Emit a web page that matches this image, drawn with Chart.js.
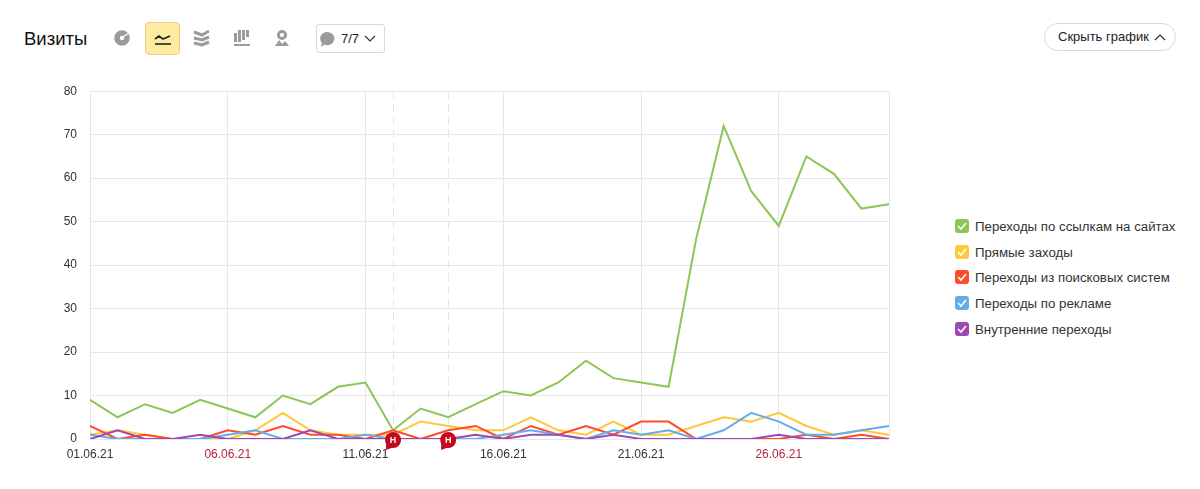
<!DOCTYPE html>
<html lang="ru">
<head>
<meta charset="utf-8">
<title>Визиты</title>
<script src="https://cdn.jsdelivr.net/npm/chart.js@4"></script>
<style>
  html, body { margin: 0; padding: 0; background: #fff; }
  body { width: 1200px; height: 489px; position: relative; overflow: hidden; font-family: "Liberation Sans", Arial, sans-serif; color: #222; }
  .title { position: absolute; left: 24px; top: 28px; font-size: 18.5px; line-height: 22px; color: #111; }
  .icon { position: absolute; top: 22px; width: 35px; height: 33px; box-sizing: border-box; }
  .icon svg { position: absolute; left: 8px; top: 7px; }
  .icon.on { background: #ffeba0; border: 1px solid #e3d08e; border-radius: 4px; }
  .notes { position: absolute; left: 316px; top: 24px; width: 69px; height: 29px; box-sizing: border-box; border: 1px solid #d9d9d9; border-radius: 3px; font-size: 13px; line-height: 27px; padding-left: 24px; }
  .notes svg { position: absolute; }
  .hide { position: absolute; left: 1044px; top: 23px; width: 132px; height: 28px; box-sizing: border-box; border: 1px solid #d9d9d9; border-radius: 14px; font-size: 13px; line-height: 26px; padding-left: 13px; }
  .hide svg { position: absolute; left: 109px; top: 9px; }
  #chartBox { position: absolute; left: 0; top: 71px; width: 900px; height: 398px; }
  #legend { position: absolute; left: 955px; top: 218px; }
  .item { position: relative; height: 25.7px; font-size: 13.25px; line-height: 17px; padding-left: 20px; white-space: nowrap; color: #333; }
  .box { position: absolute; left: 0; top: 1px; width: 14px; height: 14px; border-radius: 3px; }
  .box svg { position: absolute; left: 2px; top: 2px; }
</style>
</head>
<body>
<div class="title">Визиты</div>

<div class="icon" style="left:105px"><svg width="18" height="18" viewBox="0 0 18 18"><circle cx="9" cy="9" r="5" fill="none" stroke="#9b9b9b" stroke-width="5.5"/><path d="M10 8L17 3" stroke="#fff" stroke-width="1.2"/></svg></div>
<div class="icon on" style="left:145px"><svg width="18" height="18" viewBox="0 0 18 18" fill="none" stroke="#222" stroke-width="1.6"><path d="M1 9L5 6L9 9L16 6"/><path d="M1 14H17"/></svg></div>
<div class="icon" style="left:185px"><svg width="18" height="18" viewBox="0 0 18 18" fill="none" stroke="#9b9b9b" stroke-width="3"><path d="M1 3L9 6L16 2"/><path d="M1 9L9 11L16 8"/><path d="M1 14L9 16L16 13"/></svg></div>
<div class="icon" style="left:225px"><svg width="18" height="18" viewBox="0 0 18 18" fill="#9b9b9b"><rect x="1" y="4" width="3" height="9"/><rect x="5" y="1" width="3" height="12"/><rect x="9" y="1" width="3" height="10"/><rect x="13" y="1" width="3" height="7"/><rect x="1" y="15" width="16" height="2"/></svg></div>
<div class="icon" style="left:265px"><svg width="18" height="18" viewBox="0 0 18 18" fill="none" stroke="#9b9b9b"><circle cx="9" cy="6" r="3.6" stroke-width="3"/><path d="M2 17L6 11L9 15L12 12L16 17Z" fill="#9b9b9b" stroke="none"/></svg></div>

<div class="notes"><svg style="left:2px;top:6px" width="17" height="17" viewBox="0 0 17 17"><path d="M8.5 1a7 6.6 0 1 1-3 12.6L2 16l1-4A7 6.6 0 0 1 8.5 1Z" fill="#9b9b9b"/></svg>7/7<svg style="left:47px;top:10px" width="12" height="8" viewBox="0 0 12 8" fill="none" stroke="#333" stroke-width="1.2"><path d="M1 1L6 6L11 1"/></svg></div>
<div class="hide">Скрыть график<svg width="12" height="8" viewBox="0 0 12 8" fill="none" stroke="#333" stroke-width="1.2"><path d="M1 7L6 2L11 7"/></svg></div>

<div id="chartBox"><canvas id="chart"></canvas></div>
<div id="legend"></div>

<script>
const categories = ['01.06.21','02.06.21','03.06.21','04.06.21','05.06.21','06.06.21','07.06.21','08.06.21','09.06.21','10.06.21',
  '11.06.21','12.06.21','13.06.21','14.06.21','15.06.21','16.06.21','17.06.21','18.06.21','19.06.21','20.06.21',
  '21.06.21','22.06.21','23.06.21','24.06.21','25.06.21','26.06.21','27.06.21','28.06.21','29.06.21','30.06.21'];

const linkVisits =     [9,5,8,6,9,7,5,10,8,12,13,2,7,5,8,11,10,13,18,14,13,12,46,72,57,49,65,61,53,54];
const directVisits =   [1,2,1,0,0,0,2,6,2,1,1,1,4,3,2,2,5,2,1,4,1,1,3,5,4,6,3,1,2,1];
const searchVisits =   [3,0,1,0,0,2,1,3,1,1,0,2,0,2,3,0,3,1,3,1,4,4,0,0,0,0,1,0,1,0];
const adVisits =       [1,0,0,0,0,1,2,0,0,0,1,0,0,0,0,1,2,1,0,2,1,2,0,2,6,4,1,1,2,3];
const internalVisits = [0,2,0,0,1,0,0,0,2,0,0,0,0,0,1,0,1,1,0,1,0,0,0,0,0,1,0,0,0,0];

const seriesNames = ['Переходы по ссылкам на сайтах','Прямые заходы','Переходы из поисковых систем','Переходы по рекламе','Внутренние переходы'];
const seriesColors = ['#8bc657','#ffc73a','#ff4a2b','#62aeea','#9f47b4'];
const seriesValues = [linkVisits, directVisits, searchVisits, adVisits, internalVisits];

const weekendLabels = ['06.06.21','26.06.21'];
const noteDates = ['12.06.21','14.06.21'];
const gridColor = '#e6e6e6';

// dashed note lines go under the series, red pins on top
const notesPlugin = {
  id: 'notes',
  beforeDatasetsDraw(chart) {
    const { ctx, scales: { x }, chartArea } = chart;
    ctx.save();
    ctx.strokeStyle = gridColor;
    ctx.lineWidth = 1;
    ctx.setLineDash([8, 5]);
    noteDates.forEach(d => {
      const px = Math.round(x.getPixelForValue(categories.indexOf(d))) + 0.5;
      ctx.beginPath();
      ctx.moveTo(px, chartArea.top);
      ctx.lineTo(px, chartArea.bottom);
      ctx.stroke();
    });
    ctx.restore();
  },
  afterDatasetsDraw(chart) {
    const { ctx, scales: { x, y } } = chart;
    ctx.save();
    noteDates.forEach(d => {
      const px = x.getPixelForValue(categories.indexOf(d));
      const py = y.getPixelForValue(0) + 1;
      ctx.fillStyle = '#c5091c';
      ctx.beginPath();
      ctx.arc(px, py, 8, 0, Math.PI * 2);
      ctx.fill();
      ctx.beginPath();
      ctx.moveTo(px - 7, py + 2);
      ctx.lineTo(px - 7, py + 10);
      ctx.lineTo(px + 1, py + 7);
      ctx.fill();
      ctx.fillStyle = '#fff';
      ctx.font = 'bold 9px "Liberation Sans"';
      ctx.textAlign = 'center';
      ctx.textBaseline = 'middle';
      ctx.fillText('Н', px, py + 0.5);
    });
    ctx.restore();
  }
};

new Chart(document.getElementById('chart'), {
  type: 'line',
  plugins: [notesPlugin],
  data: {
    labels: categories,
    datasets: seriesNames.map((name, i) => ({
      label: name,
      data: seriesValues[i],
      borderColor: seriesColors[i],
      backgroundColor: seriesColors[i],
      borderWidth: 2,
      pointRadius: 0,
      tension: 0,
      clip: { left: 0, right: 0, top: 2, bottom: 0 },
      order: seriesNames.length - i
    }))
  },
  options: {
    responsive: true,
    maintainAspectRatio: false,
    animation: false,
    layout: { padding: { top: 2, right: 11, left: 0, bottom: 0 } },
    plugins: { legend: { display: false }, tooltip: { enabled: false } },
    scales: {
      x: {
        type: 'category',
        afterFit: axis => { axis.height = 30; },
        border: { display: false },
        grid: {
          drawTicks: false,
          color: c => (c.index % 5 === 0 || c.index === categories.length - 1) ? gridColor : 'transparent'
        },
        ticks: {
          autoSkip: false,
          maxRotation: 0,
          padding: 8,
          font: { family: '"Liberation Sans"', size: 12 },
          color: c => weekendLabels.includes(categories[c.index]) ? '#b3243c' : '#333',
          callback: (v, i) => i % 5 === 0 ? categories[i] : ''
        }
      },
      y: {
        min: 0,
        max: 80,
        afterFit: axis => { axis.width = 90; },
        border: { display: false },
        grid: { drawTicks: false, color: gridColor },
        ticks: {
          stepSize: 10,
          padding: 13,
          font: { family: '"Liberation Sans"', size: 12 },
          color: '#333'
        }
      }
    }
  }
});

// legend sits outside the canvas
const legendEl = document.getElementById('legend');
seriesNames.forEach((name, i) => {
  const item = document.createElement('div');
  item.className = 'item';
  item.innerHTML = `<span class="box" style="background:${seriesColors[i]}"><svg width="10" height="10" viewBox="0 0 10 10" fill="none" stroke="#fff" stroke-width="1.6"><path d="M1 5L4 8L9 2"/></svg></span>${name}`;
  legendEl.appendChild(item);
});
</script>
</body>
</html>
